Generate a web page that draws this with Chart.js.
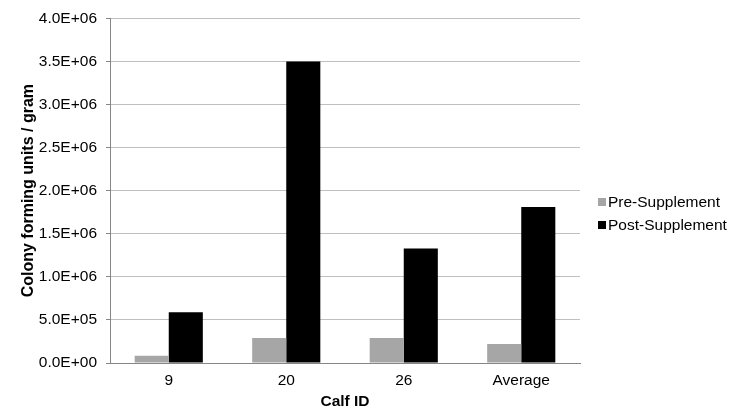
<!DOCTYPE html>
<html><head><meta charset="utf-8">
<script src="https://cdn.jsdelivr.net/npm/chart.js@4"></script>
<style>html,body{margin:0;padding:0;background:#fff}#wrap{width:738px;height:410px}</style>
</head><body><div id="wrap"><canvas id="c" width="738" height="410"></canvas></div>
<script>
const categories = ['9', '20', '26', 'Average'];
const preSupplement = [85000, 290000, 290000, 220000];
const postSupplement = [590000, 3500000, 1330000, 1810000];
const seriesNames = ['Pre-Supplement', 'Post-Supplement'];
const yTickLabels = ['0.0E+00','5.0E+05','1.0E+06','1.5E+06','2.0E+06','2.5E+06','3.0E+06','3.5E+06','4.0E+06'];

const FONT = '"Liberation Sans", Arial, sans-serif';

const legendPlugin = {
  id: 'sideLegend',
  afterDraw(chart) {
    const ctx = chart.ctx;
    ctx.save();
    ctx.font = '15.5px ' + FONT;
    ctx.textBaseline = 'middle';
    ctx.textAlign = 'left';
    const x = chart.chartArea.right + 18;
    const y0 = 202;
    chart.data.datasets.forEach((ds, i) => {
      const y = y0 + i * 23;
      ctx.fillStyle = ds.backgroundColor;
      ctx.fillRect(x, y - 4, 8, 8);
      ctx.fillStyle = '#000';
      ctx.fillText(ds.label, x + 10, y + 0.5);
    });
    ctx.restore();
  }
};

new Chart(document.getElementById('c'), {
  type: 'bar',
  data: {
    labels: categories,
    datasets: [
      { label: seriesNames[0], data: preSupplement, backgroundColor: '#a6a6a6', barPercentage: 1.0, categoryPercentage: 0.58 },
      { label: seriesNames[1], data: postSupplement, backgroundColor: '#000000', barPercentage: 1.0, categoryPercentage: 0.58 }
    ]
  },
  options: {
    responsive: false,
    animation: false,
    layout: { padding: { top: 12, right: 158, left: 0, bottom: 0 } },
    plugins: { legend: { display: false }, tooltip: { enabled: false } },
    scales: {
      x: {
        grid: { display: false, drawTicks: false },
        border: { color: '#868686', width: 1 },
        ticks: { color: '#000', font: { family: FONT, size: 15.5 }, padding: 8 },
        title: { display: true, text: 'Calf ID', color: '#000', font: { family: FONT, size: 15.5, weight: 'bold' }, padding: { top: 0, bottom: -1 } },
        afterFit(s) { s.height = 47; }
      },
      y: {
        min: 0, max: 4000000,
        ticks: { stepSize: 500000, color: '#000', font: { family: FONT, size: 15.5 }, padding: 9,
          callback(v, i) { return yTickLabels[i]; } },
        grid: { color: '#bfbfbf', tickLength: 4, tickColor: '#868686' },
        border: { color: '#868686', width: 1 },
        title: { display: true, text: 'Colony forming units / gram', color: '#000', font: { family: FONT, size: 16, weight: 'bold' }, padding: { top: 19, bottom: 0 } },
        afterFit(s) { s.width = 110; }
      }
    }
  },
  plugins: [legendPlugin]
});
</script>
</body></html>
